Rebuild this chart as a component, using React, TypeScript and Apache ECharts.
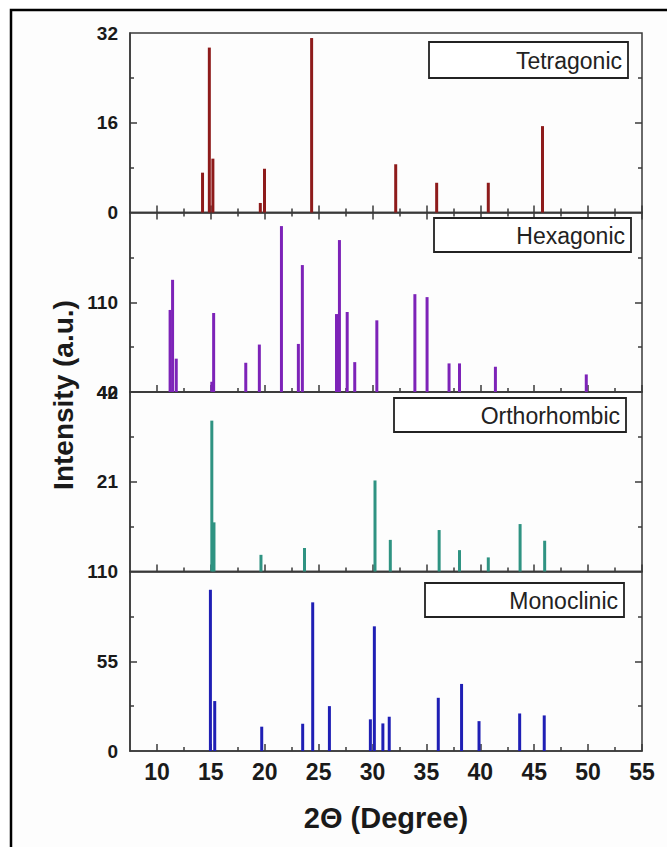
import React, { useEffect, useRef } from "react";
import * as echarts from "echarts";

const FONT = '"Liberation Sans", Arial, Helvetica, sans-serif';

// X axis ticks / labels (2θ, degree)
const xMajorTicks = [10, 15, 20, 25, 30, 35, 40, 45, 50, 55];
const xMinorTicks = [12.5, 17.5, 22.5, 27.5, 32.5, 37.5, 42.5, 47.5, 52.5];

// Phase names
const phaseNames = ["Tetragonic", "Hexagonic", "Orthorhombic", "Monoclinic"];

// Tetragonic peaks
const tetraPos = [14.23, 14.86, 15.19, 19.59, 19.98, 24.35, 32.15, 35.95, 40.74, 45.77];
const tetraInt = [7.1, 29.4, 9.6, 1.7, 7.8, 31.1, 8.6, 5.3, 5.3, 15.4];

// Hexagonic peaks
const hexaPos = [11.22, 11.45, 11.79, 15.09, 15.26, 18.24, 19.5, 21.55, 23.12, 23.49, 26.66, 26.93, 27.65, 28.35, 30.4, 33.93, 35.06, 37.1, 38.07, 41.4, 49.83];
const hexaInt = [104, 127.5, 66, 48, 101.6, 62.8, 77, 169.4, 77.5, 139, 100.8, 158.5, 102.4, 63.3, 95.9, 116.3, 114, 62.3, 62.3, 59.7, 53.7];

// Orthorhombic peaks
const orthoPos = [15.09, 15.29, 19.65, 23.69, 30.23, 31.65, 36.18, 38.07, 40.74, 43.69, 45.97];
const orthoInt = [35.3, 11.5, 3.9, 5.5, 21.3, 7.4, 9.7, 5.0, 3.3, 11.1, 7.2];

// Monoclinic peaks
const monoPos = [14.96, 15.36, 19.72, 23.52, 24.45, 26.0, 29.8, 30.17, 30.96, 31.55, 36.1, 38.26, 39.88, 43.65, 45.93];
const monoInt = [98.8, 30.6, 14.9, 16.7, 91.1, 27.5, 19.4, 76.4, 16.9, 21.0, 32.6, 41.1, 18.3, 23.0, 21.8];

// Y ranges, labels and ticks per panel
const yMins = [0, 40, 0, 0];
const yMaxs = [32, 180, 42, 110];
const yLabelValues = [[0, 16, 32], [40, 110], [21, 42], [0, 55, 110]];
const yMajorTicks = [[16], [110], [21], [55]];
const yMinorTicks = [[8, 24], [75, 145], [10.5, 31.5], [27.5, 82.5]];

const panelPos = [tetraPos, hexaPos, orthoPos, monoPos];
const panelInt = [tetraInt, hexaInt, orthoInt, monoInt];
const colors = ["#8e1b1b", "#7d23b8", "#2f9382", "#1f1fb5"];

const AXIS_COLOR = "#3a3a3a";

function buildOption() {
  const grids: any[] = [];
  const xAxes: any[] = [];
  const yAxes: any[] = [];
  const series: any[] = [];
  const gridTop = 33;
  const gridH = 179.5;

  const tickAxis = (base: any, values: number[], length: number) => ({
    ...base,
    axisLine: { show: false },
    axisTick: { show: true, inside: true, length, customValues: values, lineStyle: { color: AXIS_COLOR, width: 1.5 } },
    axisLabel: { show: false },
    splitLine: { show: false },
  });

  for (let i = 0; i < 4; i++) {
    grids.push({
      left: 130,
      right: 25,
      top: gridTop + i * gridH,
      height: gridH,
      show: true,
      borderColor: AXIS_COLOR,
      borderWidth: 1.5,
      backgroundColor: "transparent",
    });

    const xMain = xAxes.length;
    xAxes.push({
      type: "value",
      gridIndex: i,
      min: 7.5,
      max: 55,
      position: "bottom",
      axisLine: { show: true, onZero: false, lineStyle: { color: AXIS_COLOR, width: 1.5 } },
      axisTick: { show: true, inside: true, length: 7, customValues: xMajorTicks, lineStyle: { color: AXIS_COLOR, width: 1.5 } },
      axisLabel: {
        show: i === 3,
        customValues: xMajorTicks,
        fontSize: 23,
        fontWeight: "bold",
        color: "#1a1a1a",
        fontFamily: FONT,
        margin: 9,
      },
      splitLine: { show: false },
    });
    xAxes.push(tickAxis({ type: "value", gridIndex: i, min: 7.5, max: 55, position: "bottom" }, xMinorTicks, 4));
    if (i === 0) {
      xAxes.push(tickAxis({ type: "value", gridIndex: i, min: 7.5, max: 55, position: "top" }, xMajorTicks, 7));
      xAxes.push(tickAxis({ type: "value", gridIndex: i, min: 7.5, max: 55, position: "top" }, xMinorTicks, 4));
    }

    const yMain = yAxes.length;
    yAxes.push({
      type: "value",
      gridIndex: i,
      min: yMins[i],
      max: yMaxs[i],
      position: "left",
      axisLine: { show: true, onZero: false, lineStyle: { color: AXIS_COLOR, width: 1.5 } },
      axisTick: { show: true, inside: true, length: 7, customValues: yMajorTicks[i], lineStyle: { color: AXIS_COLOR, width: 1.5 } },
      axisLabel: {
        show: true,
        customValues: yLabelValues[i],
        fontSize: 19,
        fontWeight: "bold",
        color: "#1a1a1a",
        fontFamily: FONT,
        margin: 12,
      },
      splitLine: { show: false },
    });
    yAxes.push(tickAxis({ type: "value", gridIndex: i, min: yMins[i], max: yMaxs[i], position: "left" }, yMinorTicks[i], 4));
    yAxes.push(tickAxis({ type: "value", gridIndex: i, min: yMins[i], max: yMaxs[i], position: "right" }, yMajorTicks[i], 7));
    yAxes.push(tickAxis({ type: "value", gridIndex: i, min: yMins[i], max: yMaxs[i], position: "right" }, yMinorTicks[i], 4));

    series.push({
      type: "bar",
      name: phaseNames[i],
      xAxisIndex: xMain,
      yAxisIndex: yMain,
      barWidth: 3,
      clip: true,
      itemStyle: { color: colors[i] },
      data: panelPos[i].map((p, k) => [p, panelInt[i][k]]),
    });
  }

  const boxes = [
    [429, 42, 199, 36],
    [434, 218, 197, 34],
    [394, 398, 232, 34],
    [425, 583, 199, 34],
  ];

  const graphic: any[] = [
    {
      type: "rect",
      z: -10,
      shape: { x: 11, y: 10, width: 720, height: 900 },
      style: { fill: "#fdfdfd", stroke: "#000", lineWidth: 2.5 },
      silent: true,
    },
    {
      type: "text",
      x: 386,
      y: 818,
      style: {
        text: "2Θ (Degree)",
        font: `bold 29px ${FONT}`,
        fill: "#1a1a1a",
        textAlign: "center",
        textVerticalAlign: "middle",
      },
    },
    {
      type: "text",
      x: 63,
      y: 395,
      rotation: Math.PI / 2,
      style: {
        text: "Intensity (a.u.)",
        font: `bold 28px ${FONT}`,
        fill: "#1a1a1a",
        textAlign: "center",
        textVerticalAlign: "middle",
      },
    },
  ];

  boxes.forEach((b, i) => {
    graphic.push({
      type: "rect",
      z: 50,
      shape: { x: b[0], y: b[1], width: b[2], height: b[3] },
      style: { fill: "#ffffff", stroke: "#222", lineWidth: 1.8 },
    });
    graphic.push({
      type: "text",
      z: 51,
      x: b[0] + b[2] - 6,
      y: b[1] + b[3] / 2 + 1,
      style: {
        text: phaseNames[i],
        font: `23px ${FONT}`,
        fill: "#222",
        textAlign: "right",
        textVerticalAlign: "middle",
      },
    });
  });

  return {
    animation: false,
    backgroundColor: "#ffffff",
    textStyle: { fontFamily: FONT },
    grid: grids,
    xAxis: xAxes,
    yAxis: yAxes,
    series,
    graphic,
  };
}

export default function App() {
  const ref = useRef<HTMLDivElement>(null);
  useEffect(() => {
    if (!ref.current) return;
    const chart = echarts.init(ref.current, undefined, { renderer: "svg" });
    chart.setOption(buildOption());
    return () => chart.dispose();
  }, []);
  return (
    <div
      ref={ref}
      style={{ position: "absolute", left: 0, top: 0, width: 667, height: 847 }}
    />
  );
}
